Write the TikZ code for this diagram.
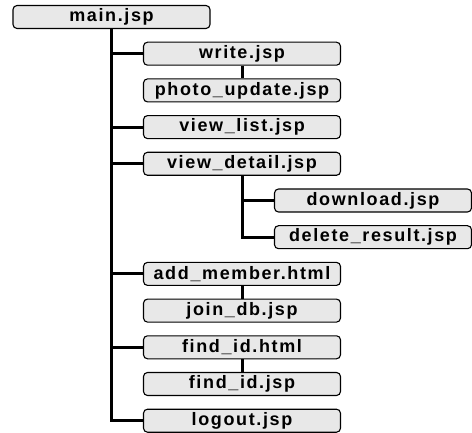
\documentclass[tikz,border=0pt]{standalone}
\usepackage{fontspec}
\setmainfont{Liberation Sans}[LetterSpace=9]
\usepackage{tikz}
\usetikzlibrary{positioning}
\usepackage{xcolor}
\definecolor{pagefill}{RGB}{232,232,232}

\begin{document}
\begin{tikzpicture}[node distance=12.6pt and 0pt,
  page/.style={draw=black,fill=pagefill,rounded corners=4pt,line width=1.1pt,
               minimum width=197pt,minimum height=23pt,inner sep=0pt,
               font=\fontsize{18}{20}\selectfont\bfseries},
  link/.style={line width=3pt}]
  \useasboundingbox (0,0) rectangle (472pt,-433pt);
  \node[page] (main) at (111.5pt,-17pt) {main.jsp};
  \node[page,below=of main,xshift=130.5pt] (write)  {write.jsp};
  \node[page,below=of write]               (photo)  {photo\_update.jsp};
  \node[page,below=of photo]               (vlist)  {view\_list.jsp};
  \node[page,below=of vlist]               (vdetail){view\_detail.jsp};
  \node[page,below=of vdetail,xshift=131pt](down)   {download.jsp};
  \node[page,below=of down]                (delres) {delete\_result.jsp};
  \node[page,below=of delres,xshift=-131pt](addmem) {add\_member.html};
  \node[page,below=of addmem]              (joindb) {join\_db.jsp};
  \node[page,below=of joindb]              (findh)  {find\_id.html};
  \node[page,below=of findh]               (findj)  {find\_id.jsp};
  \node[page,below=of findj]               (logout) {logout.jsp};
  % trunk from main
  \draw[link] (main.south) |- (logout.west);
  \foreach \n in {write,vlist,vdetail,addmem,findh}
    \draw[link] (main.south) |- (\n.west);
  % view_detail branch
  \draw[link] (vdetail.south) |- (down.west);
  \draw[link] (vdetail.south) |- (delres.west);
  % short links
  \draw[link] (write.south)  -- (photo.north);
  \draw[link] (addmem.south) -- (joindb.north);
  \draw[link] (findh.south)  -- (findj.north);
\end{tikzpicture}
\end{document}
